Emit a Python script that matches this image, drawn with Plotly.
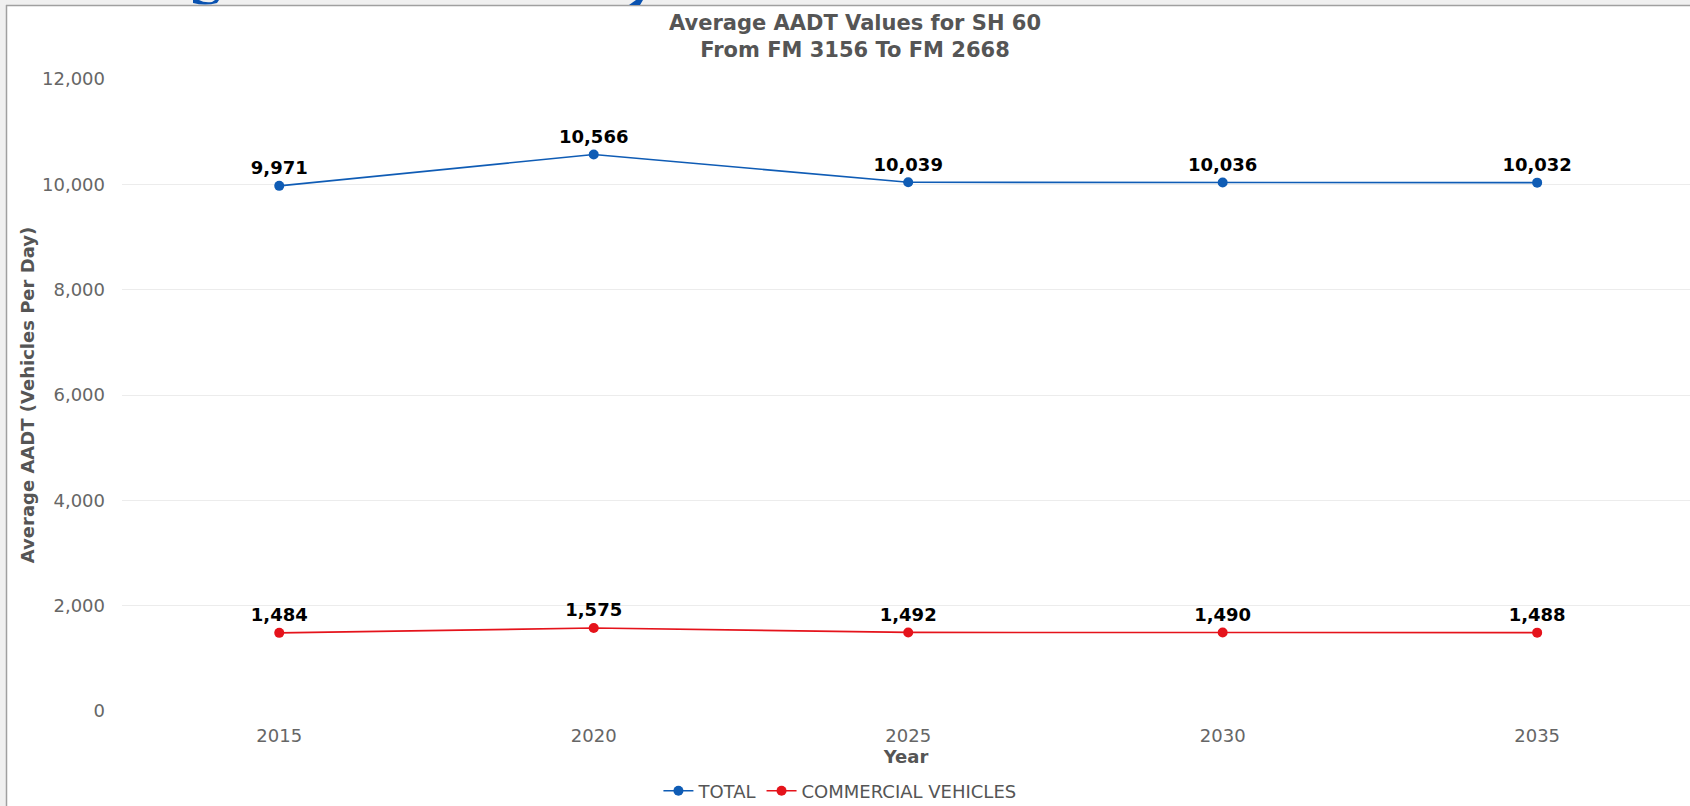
import plotly.graph_objects as go

years = ["2015", "2020", "2025", "2030", "2035"]
total = [9971, 10566, 10039, 10036, 10032]
commercial = [1484, 1575, 1492, 1490, 1488]
series_names = ["TOTAL", "COMMERCIAL VEHICLES"]
y_ticks = [0, 2000, 4000, 6000, 8000, 10000, 12000]

W, H = 1690, 806
L, R, T, B = 122, 0, 79, 95
PW, PH = W - L - R, H - T - B
FONT = "DejaVu Sans"

def px(x):
    return (x - L) / PW

def py(y):
    return (H - B - y) / PH

fig = go.Figure()
for name, vals, col in [(series_names[0], total, "#0f5cb5"),
                        (series_names[1], commercial, "#e5131b")]:
    fig.add_trace(go.Scatter(
        x=years, y=vals, name=name, mode="lines+markers+text",
        line=dict(color=col, width=1.6),
        marker=dict(color=col, size=10),
        texttemplate="%{y:,.0f}", textposition="top center",
        textfont=dict(family=FONT, size=18, color="#000000", weight="bold"),
        cliponaxis=False,
    ))

shapes = [
    # light gray frame strips (top and left)
    dict(type="rect", xref="paper", yref="paper", x0=px(0), x1=px(W), y0=py(5), y1=py(-2),
         fillcolor="#f0f0f0", line=dict(width=0), layer="above"),
    dict(type="rect", xref="paper", yref="paper", x0=px(-2), x1=px(6), y0=py(H + 2), y1=py(0),
         fillcolor="#f0f0f0", line=dict(width=0), layer="above"),
    dict(type="line", xref="paper", yref="paper", x0=px(6), x1=px(W), y0=py(5.5), y1=py(5.5),
         line=dict(color="#a0a0a0", width=1.5), layer="above"),
    dict(type="line", xref="paper", yref="paper", x0=px(6.5), x1=px(6.5), y0=py(5), y1=py(H),
         line=dict(color="#a0a0a0", width=1.5), layer="above"),
    # cut-off descenders of a heading above the chart
    dict(type="path", xref="paper", yref="paper",
         path=f"M {px(193)},{py(0)} L {px(199)},{py(0)} Q {px(204)},{py(3)} {px(212)},{py(2)} "
              f"L {px(215)},{py(0)} L {px(219)},{py(0)} L {px(217)},{py(3)} Q {px(205)},{py(6)} {px(193)},{py(3)} Z",
         fillcolor="#0a52b0", line=dict(width=0), layer="above"),
    dict(type="path", xref="paper", yref="paper",
         path=f"M {px(636)},{py(0)} L {px(643)},{py(0)} L {px(640)},{py(5)} L {px(629)},{py(5)} Z",
         fillcolor="#0a52b0", line=dict(width=0), layer="above"),
]

fig.update_layout(
    width=W, height=H,
    margin=dict(l=L, r=R, t=T, b=B),
    paper_bgcolor="#ffffff", plot_bgcolor="#ffffff",
    font=dict(family=FONT, color="#666666"),
    title=dict(text="Average AADT Values for SH 60<br>From FM 3156 To FM 2668",
               font=dict(family=FONT, size=21, color="#555555", weight="bold"),
               xref="container", x=855 / W, xanchor="center",
               yref="container", y=1 - 30 / H, yanchor="middle"),
    showlegend=True,
    legend=dict(orientation="h", xref="container", x=0.497, xanchor="center",
                yref="container", y=1 - 791 / H, yanchor="middle",
                font=dict(family=FONT, size=18, color="#555555"),
                itemwidth=30, tracegroupgap=0, bgcolor="rgba(0,0,0,0)"),
    shapes=shapes,
)
fig.update_xaxes(
    type="category", range=[-0.5, 4.486], showgrid=False, zeroline=False,
    showline=False, ticks="", ticklabelstandoff=12,
    tickfont=dict(family=FONT, size=18, color="#666666"),
    title=dict(text="Year", standoff=5,
               font=dict(family=FONT, size=18, color="#555555", weight="bold")),
)
fig.update_yaxes(
    range=[0, 12000], tickvals=y_ticks, tickformat=",",
    showgrid=True, gridcolor="#ececec", gridwidth=1, zeroline=False,
    showline=False, ticks="", ticklabelstandoff=16,
    tickfont=dict(family=FONT, size=18, color="#666666"),
    title=dict(text="Average AADT (Vehicles Per Day)", standoff=2,
               font=dict(family=FONT, size=18, color="#555555", weight="bold")),
)

fig.write_html("out.html", config={"displayModeBar": False},
               post_script="document.body.style.margin='0';document.body.style.overflow='hidden';")
